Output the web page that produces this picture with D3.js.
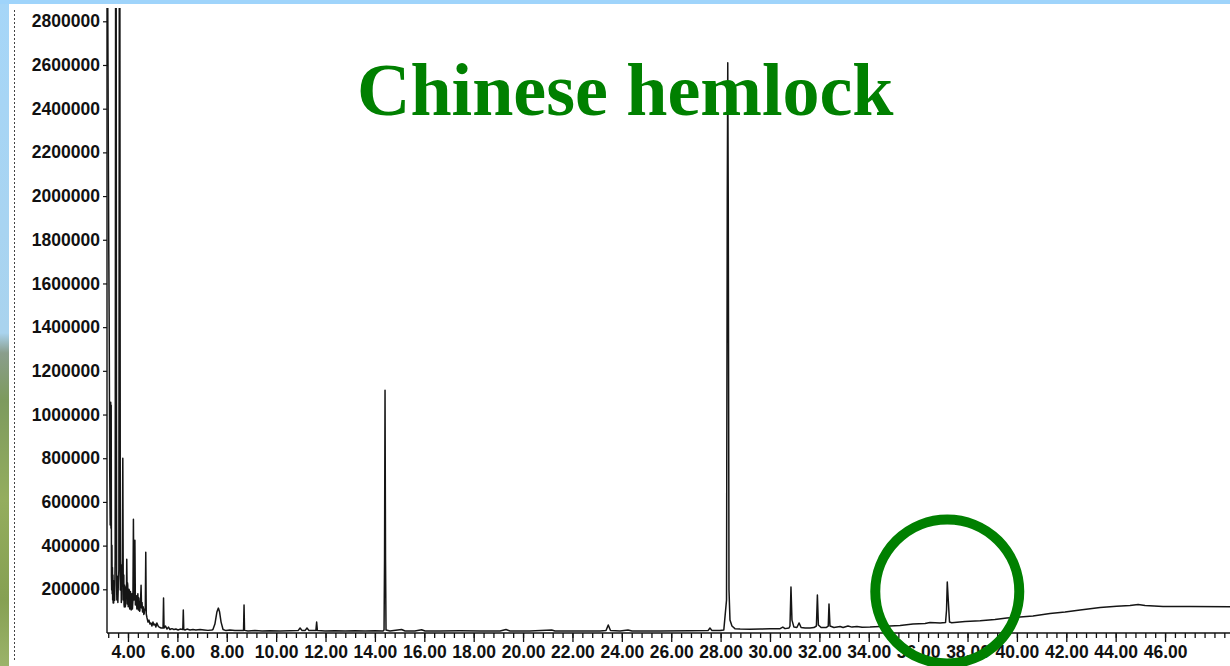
<!DOCTYPE html>
<html>
<head>
<meta charset="utf-8">
<script src="https://cdn.jsdelivr.net/npm/d3@7/dist/d3.min.js"></script>
<style>
  html, body { margin: 0; padding: 0; background: #fff; }
  svg { display: block; }
</style>
</head>
<body>
<svg id="chart" width="1230" height="666"></svg>
<script>
// Chromatogram of Chinese hemlock extract: total ion abundance vs retention time (min)
const retentionTimes = [
  3.14, 3.16, 3.17, 3.18, 3.19, 3.20, 3.21, 3.22, 3.24, 3.26, 3.28,
  3.30, 3.31, 3.32, 3.33, 3.34, 3.35, 3.36, 3.37, 3.38, 3.39, 3.40, 3.41, 3.42, 3.44, 3.46,
  3.48, 3.50, 3.52, 3.54, 3.55, 3.57, 3.59, 3.61,
  3.63, 3.65, 3.67, 3.69, 3.70, 3.72, 3.73, 3.74, 3.75,
  3.77, 3.79, 3.81, 3.82, 3.83, 3.84, 3.85, 3.86, 3.88, 3.89, 3.90, 3.92,
  3.94, 3.95, 3.97, 3.98, 3.99, 4.01, 4.02, 4.04, 4.05, 4.07, 4.08, 4.10, 4.11, 4.13, 4.14, 4.16, 4.18,
  4.20, 4.22, 4.24, 4.26, 4.28, 4.30, 4.32, 4.34, 4.36, 4.38, 4.40, 4.42, 4.44, 4.45, 4.47, 4.48,
  4.51, 4.53, 4.55, 4.57, 4.59, 4.61, 4.62, 4.64, 4.66, 4.68,
  4.70, 4.72, 4.74, 4.77, 4.81, 4.85, 4.89, 4.93, 4.97, 5.01, 5.05, 5.09, 5.13, 5.17, 5.22, 5.26, 5.30, 5.34,
  5.42, 5.44, 5.46, 5.52, 5.58, 5.64, 5.70, 5.78, 5.86, 5.94, 6.03, 6.11,
  6.22, 6.24, 6.26, 6.31, 6.39, 6.51, 6.63, 6.75, 6.92, 7.08, 7.24, 7.40,
  7.44, 7.52, 7.60, 7.66, 7.71, 7.77, 7.85,
  7.97, 8.13, 8.33, 8.54,
  8.68, 8.70, 8.72,
  8.86, 9.14, 9.43, 9.75, 10.16, 10.56, 10.89, 10.97, 11.05, 11.17, 11.25, 11.33,
  11.61, 11.64, 11.67,
  11.98, 12.38, 12.79, 13.19, 13.60, 14.00, 14.33,
  14.37, 14.39, 14.41, 14.43, 14.45,
  14.61, 15.08, 15.22, 15.62, 15.89, 16.03, 16.64, 17.45, 18.26, 19.07, 19.31, 19.47, 20.28, 21.16, 21.29, 22.31, 23.12,
  23.36, 23.45, 23.54,
  23.93, 24.25, 24.41, 25.55, 26.76, 27.49, 27.57, 27.65, 27.98, 28.13,
  28.24, 28.27, 28.29, 28.31, 28.34, 28.38, 28.46, 28.58, 28.79, 29.19, 29.60, 30.00, 30.41,
  30.52, 30.61, 30.77,
  30.81, 30.85, 30.89, 30.97, 31.09, 31.18, 31.26,
  31.42, 31.62, 31.78,
  31.88, 31.92, 31.96, 32.07, 32.27,
  32.36, 32.39, 32.43, 32.59, 32.84, 32.96, 33.16, 33.32, 33.52, 33.73, 34.05, 34.46, 34.86, 35.27, 35.79, 36.28, 36.48, 36.89, 37.11,
  37.15, 37.18, 37.22, 37.27, 37.36, 37.90, 38.51, 39.11, 39.59, 40.13, 40.65, 41.34, 41.95, 42.56, 43.37, 44.04, 44.58, 44.91, 45.19, 45.92, 47.01, 48.63
];
const abundance = [
  3200000, 2650000, 2596000, 2900000, 2619000, 2300000, 2071000, 1800000, 1385000, 745000, 494000,
  1056000, 480000, 1042000, 260000, 197000, 402000, 180000, 300000, 151000, 265000, 137000, 240000, 137000, 210000, 150000,
  334000, 3200000, 3200000, 219000, 151000, 260000, 140000, 230000,
  288000, 3200000, 3200000, 197000, 280000, 311000, 140000, 151000, 250000,
  334000, 800000, 151000, 240000, 265000, 130000, 119000, 220000, 197000, 120000, 128000, 210000,
  197000, 338000, 133000, 230000, 219000, 120000, 123000, 200000, 197000, 110000, 114000, 190000, 169000, 105000, 119000, 180000, 110000,
  151000, 521000, 151000, 160000, 425000, 128000, 151000, 170000, 110000, 137000, 180000, 105000, 160000, 133000, 100000, 101000,
  151000, 219000, 114000, 140000, 96000, 120000, 119000, 85000, 91000, 110000,
  105000, 370000, 87000, 69000, 50000, 59000, 41000, 46000, 32000, 50000, 37000, 41000, 27000, 46000, 32000, 27000, 25000, 23000,
  23000, 160000, 23000, 32000, 18000, 27000, 16000, 20000, 16000, 18000, 14000, 18000,
  16000, 105000, 16000, 14000, 18000, 14000, 16000, 14000, 16000, 14000, 12000, 14000,
  16000, 41000, 96000, 114000, 96000, 50000, 16000,
  11000, 14000, 11000, 12000,
  12000, 128000, 12000,
  9000, 11000, 9000, 10500, 9000, 10000, 11000, 23000, 11000, 11000, 23000, 11000,
  11000, 50000, 11000,
  9000, 10500, 9000, 10000, 9000, 10000, 9000,
  14000, 334000, 1111000, 334000, 14000,
  9000, 16000, 9000, 9000, 15000, 9000, 9000, 10000, 9000, 9000, 16000, 9000, 9000, 14000, 9000, 9000, 9000,
  11000, 37000, 11000,
  9000, 14000, 9000, 9000, 10000, 11000, 23000, 11000, 11000, 14000,
  151000, 1979000, 2610000, 1979000, 197000, 59000, 32000, 20000, 18000, 17000, 18000, 19000, 20000,
  27000, 20000, 23000,
  32000, 210000, 59000, 27000, 25000, 46000, 25000,
  23000, 23000, 25000,
  32000, 174000, 37000, 25000, 25000,
  32000, 133000, 32000, 25000, 30000, 25000, 32000, 27000, 30000, 26000, 27000, 30000, 32000, 34000, 41000, 43000, 48000, 46000, 48000,
  105000, 233000, 151000, 50000, 47000, 53000, 56000, 62000, 69000, 73000, 78000, 89000, 96000, 105000, 117000, 123000, 126000, 130000, 126000, 121000, 121000, 120000
];

const yTickValues = [200000, 400000, 600000, 800000, 1000000, 1200000, 1400000, 1600000,
                     1800000, 2000000, 2200000, 2400000, 2600000, 2800000];
const xLabelValues = [4, 6, 8, 10, 12, 14, 16, 18, 20, 22, 24, 26, 28, 30, 32, 34, 36, 38, 40, 42, 44, 46];
const xMinorStep = 0.4;
const chartTitle = "Chinese hemlock";

const svg = d3.select("#chart");
const W = 1230, H = 666;

// Page frame: light blue top band and a landscape strip on the left edge
const defs = svg.append("defs");
const grad = defs.append("linearGradient")
  .attr("id", "edgeStrip").attr("x1", 0).attr("y1", 0).attr("x2", 0).attr("y2", 1);
[[0, "#a6d6f8"], [0.5, "#a9d3ee"], [0.53, "#8a9e8c"], [0.6, "#7d9a5e"], [0.75, "#94ad5e"], [0.9, "#86a052"], [1, "#9bb36a"]]
  .forEach(([o, c]) => grad.append("stop").attr("offset", o).attr("stop-color", c));

svg.append("rect").attr("x", 0).attr("y", 0).attr("width", W).attr("height", H).attr("fill", "#fff");
svg.append("rect").attr("x", 0).attr("y", 0).attr("width", 9).attr("height", H).attr("fill", "url(#edgeStrip)");
svg.append("rect").attr("x", 0).attr("y", 0).attr("width", W).attr("height", 4).attr("fill", "#9fd4fb");

// Dotted scan edge
svg.append("line")
  .attr("x1", 14.5).attr("x2", 14.5).attr("y1", 10).attr("y2", 660)
  .attr("stroke", "#444").attr("stroke-width", 1).attr("stroke-dasharray", "2,2");

// Scales
const plot = { left: 107, right: 1230, top: 8, bottom: 633 };
const x = d3.scaleLinear().domain([3.15, 48.63]).range([plot.left, plot.right]);
const y = d3.scaleLinear().domain([0, 2800000]).range([plot.bottom, 21.3]);

const labelFont = "'Liberation Sans', Arial, sans-serif";

// Y axis
const yAxis = d3.axisLeft(y).tickValues(yTickValues).tickSize(4).tickPadding(3)
  .tickFormat(d3.format("d"));
const gy = svg.append("g").attr("transform", `translate(${plot.left},0)`).call(yAxis);
gy.select(".domain").remove();
gy.selectAll(".tick line").attr("stroke", "#111").attr("stroke-width", 1.2);
gy.selectAll(".tick text")
  .attr("font-family", labelFont).attr("font-size", 17.5).attr("font-weight", "bold")
  .attr("fill", "#111");
svg.append("line").attr("x1", plot.left).attr("x2", plot.left)
  .attr("y1", plot.top).attr("y2", plot.bottom)
  .attr("stroke", "#111").attr("stroke-width", 1.4);

// X axis: minor ticks every 0.4 min, longer ticks with labels every 2 min
const minorTicks = d3.range(4 - 2 * xMinorStep, 48.6, xMinorStep).map(v => +v.toFixed(2));
const xAxisMinor = d3.axisBottom(x).tickValues(minorTicks).tickSize(5).tickFormat("");
const gxMinor = svg.append("g").attr("transform", `translate(0,${plot.bottom})`).call(xAxisMinor);
gxMinor.select(".domain").remove();
gxMinor.selectAll(".tick line").attr("stroke", "#111").attr("stroke-width", 1.3);

const xAxisMajor = d3.axisBottom(x).tickValues(xLabelValues).tickSize(9).tickPadding(6)
  .tickFormat(d3.format(".2f"));
const gx = svg.append("g").attr("transform", `translate(0,${plot.bottom})`).call(xAxisMajor);
gx.select(".domain").remove();
gx.selectAll(".tick line").attr("stroke", "#111").attr("stroke-width", 1.3);
gx.selectAll(".tick text")
  .attr("font-family", labelFont).attr("font-size", 17.5).attr("font-weight", "bold")
  .attr("fill", "#111").attr("dy", "0.71em").attr("y", 13);
svg.append("line").attr("x1", plot.left).attr("x2", plot.right)
  .attr("y1", plot.bottom).attr("y2", plot.bottom)
  .attr("stroke", "#111").attr("stroke-width", 1.4);

// Trace
defs.append("clipPath").attr("id", "plotClip").append("rect")
  .attr("x", plot.left).attr("y", plot.top)
  .attr("width", plot.right - plot.left).attr("height", plot.bottom - plot.top);

const points = retentionTimes.map((t, i) => [t, abundance[i]]);
const line = d3.line().x(d => x(d[0])).y(d => y(d[1]));
svg.append("path")
  .datum(points)
  .attr("clip-path", "url(#plotClip)")
  .attr("d", line)
  .attr("fill", "none")
  .attr("stroke", "#151515")
  .attr("stroke-width", 1.5)
  .attr("stroke-linejoin", "round");

// Title
svg.append("text")
  .attr("x", 357).attr("y", 115)
  .attr("font-family", "'Liberation Serif', 'Times New Roman', serif")
  .attr("font-weight", "bold").attr("font-size", 74)
  .attr("fill", "#008000")
  .text(chartTitle);

// Highlight ring around the late-eluting peak
const ringCenter = [37.18, 190000];
svg.append("circle")
  .attr("cx", x(ringCenter[0])).attr("cy", y(ringCenter[1]))
  .attr("r", 72)
  .attr("fill", "none")
  .attr("stroke", "#008000")
  .attr("stroke-width", 10);
</script>
</body>
</html>
